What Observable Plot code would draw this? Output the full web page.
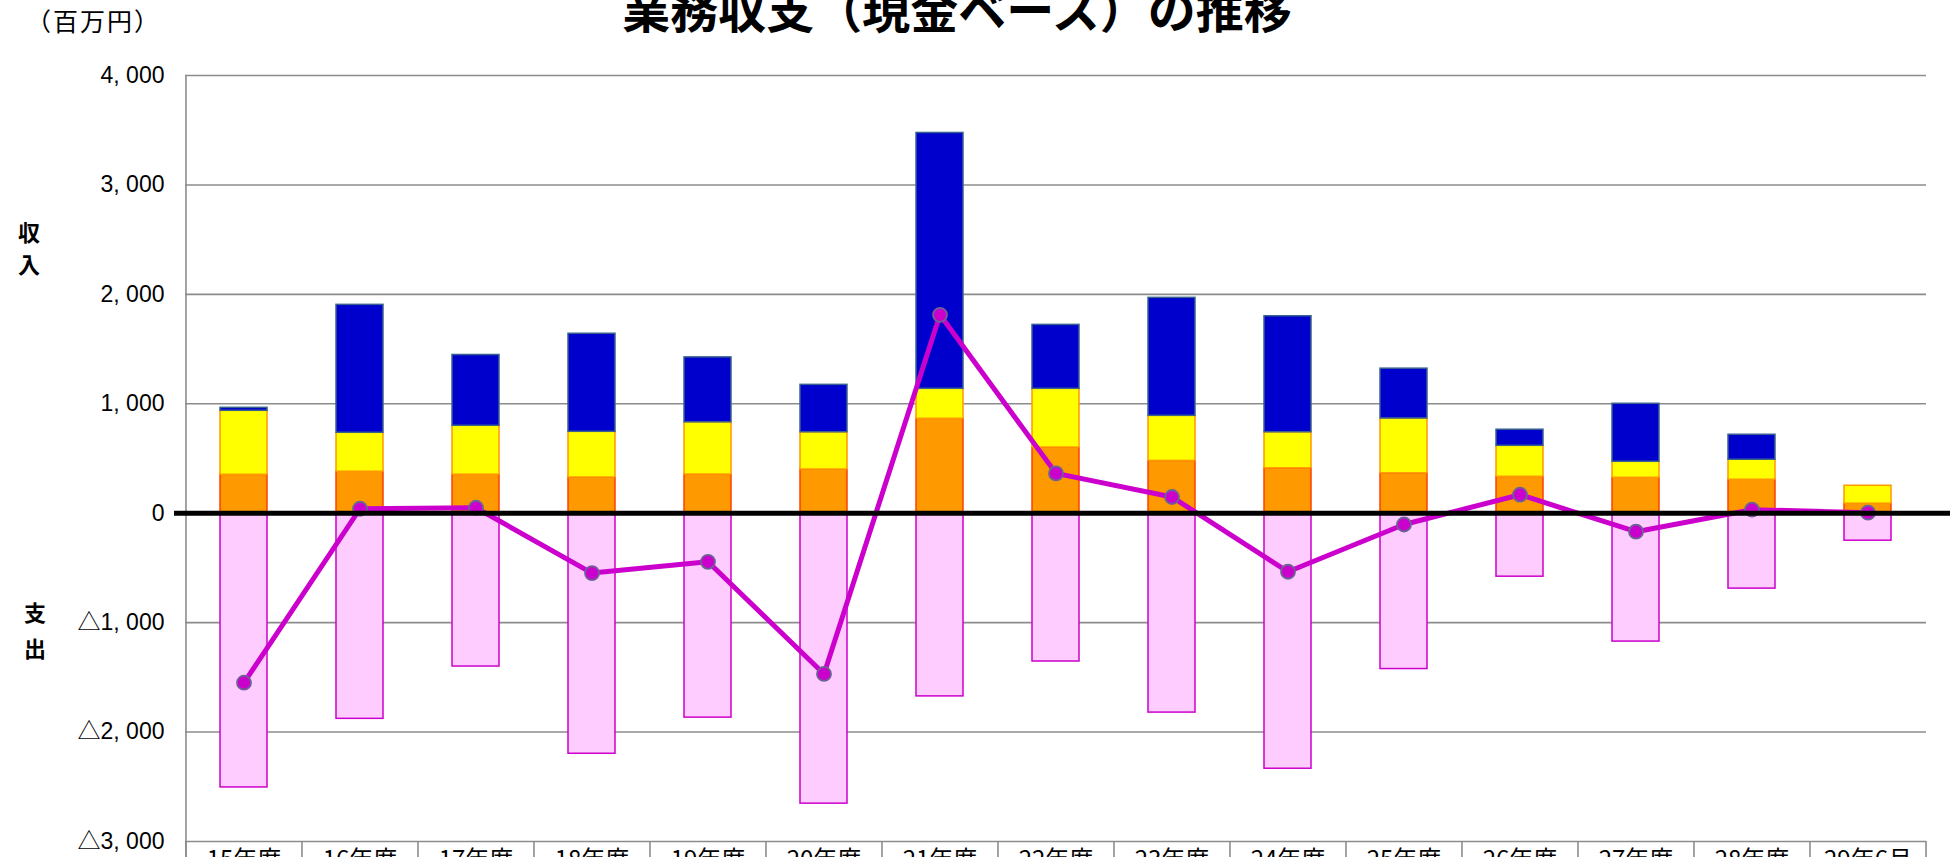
<!DOCTYPE html>
<html><head><meta charset="utf-8">
<script src="https://cdn.jsdelivr.net/npm/d3@7"></script>
<script src="https://cdn.jsdelivr.net/npm/@observablehq/plot@0.6"></script>
<style>
html,body{margin:0;padding:0;overflow:hidden;background:#fff}
#wrap{position:relative;width:1951px;height:857px;overflow:hidden}
#chart,#over{position:absolute;left:0;top:0}
</style></head><body>
<div id="wrap"><div id="chart"></div><svg id="over" width="1951" height="857"></svg></div>
<script>
// ---- data (百万円) ----
const categories = ["15年度","16年度","17年度","18年度","19年度","20年度","21年度","22年度","23年度","24年度","25年度","26年度","27年度","28年度","29年6月"];
const income1 = [351,379,352,326,353,399,863,600,478,410,364,333,324,306,87];      // orange (bottom)
const income2 = [585,356,447,418,478,341,274,537,412,330,502,283,146,183,164];     // yellow
const income3 = [27,1169,647,896,593,433,2338,584,1078,1060,455,147,530,228,0];    // blue (top)
const expense = [-2506,-1879,-1401,-2198,-1868,-2654,-1674,-1355,-1822,-2335,-1424,-580,-1173,-689,-251];
const balance = [-1549,41,50,-547,-444,-1469,1813,364,148,-535,-103,169,-169,32,5];
const yTicks = [4000,3000,2000,1000,0,-1000,-2000,-3000];
const yTickLabels = ["4, 000","3, 000","2, 000","1, 000","0","△1, 000","△2, 000","△3, 000"];
const title = "業務収支（現金ベース）の推移";
const unitLabel = "（百万円）";
const incomeLabel = ["収","入"];
const expenseLabel = ["支","出"];

// ---- layout ----
const W = 1951, H = 900, ML = 185, MR = 25, MT = 75, MB = 59;
const step = (W - ML - MR) / categories.length;

const rows = categories.map((c, i) => ({
  cat: c,
  o1: 0, o2: income1[i],
  y1: income1[i], y2: income1[i] + income2[i],
  b1: income1[i] + income2[i], b2: income1[i] + income2[i] + income3[i],
  e1: expense[i], e2: 0,
  net: balance[i]
}));

const grid = "#8c8c8c";
const chart = Plot.plot({
  width: W, height: H,
  marginLeft: ML, marginRight: MR, marginTop: MT, marginBottom: MB,
  style: {fontFamily: "'Liberation Sans','Noto Sans CJK JP',sans-serif", background: "white", color: "black"},
  x: {domain: categories, paddingInner: 0.595, paddingOuter: 0.2975, axis: null},
  y: {domain: [-3000, 4000], axis: null},
  marks: [
    Plot.ruleY(yTicks.filter(d => d !== 0), {stroke: grid, strokeWidth: 1.6}),
    // left axis line and category separators below the plot
    Plot.ruleX([categories[0]], {dx: -step / 2, y1: 4000, y2: -3700, stroke: grid, strokeWidth: 1.6}),
    Plot.ruleX(categories, {dx: -step / 2, y1: -3000, y2: -3700, stroke: grid, strokeWidth: 1.6}),
    Plot.ruleX([categories[categories.length - 1]], {dx: step / 2, y1: -3000, y2: -3700, stroke: grid, strokeWidth: 1.6}),
    Plot.barY(rows, {x: "cat", y1: "e1", y2: "e2", fill: "#FFCCFF", stroke: "#CC00CC", strokeWidth: 1.5}),
    Plot.barY(rows, {x: "cat", y1: "o1", y2: "o2", fill: "#FF9900", stroke: "#FF4000", strokeWidth: 1.5}),
    Plot.barY(rows, {x: "cat", y1: "y1", y2: "y2", fill: "#FFFF00", stroke: "#FF9900", strokeWidth: 1.5}),
    Plot.barY(rows.filter(d => d.b2 > d.b1), {x: "cat", y1: "b1", y2: "b2", fill: "#0000CC", stroke: "#38618F", strokeWidth: 1.5}),
    Plot.line(rows, {x: "cat", y: "net", stroke: "#CC00CC", strokeWidth: 5}),
    Plot.dot(rows, {x: "cat", y: "net", r: 7, fill: "#CC00CC", stroke: "#6B6295", strokeWidth: 1.8}),
    Plot.ruleY([0], {stroke: "black", strokeWidth: 5, insetLeft: -11, insetRight: -24}),
    Plot.axisY({ticks: yTicks, tickFormat: d => yTickLabels[yTicks.indexOf(d)], tickSize: 0, tickPadding: 21, fontSize: 23}),
    Plot.axisX({tickSize: 0, tickPadding: 9, fontSize: 24, fontFamily: "'Noto Sans CJK JP',sans-serif"})
  ]
});
document.getElementById("chart").appendChild(chart);

// ---- titles / annotations ----
const over = d3.select("#over").style("font-family", "'Noto Sans CJK JP',sans-serif");
over.append("text").attr("x", 957).attr("y", 28).attr("text-anchor", "middle")
  .attr("font-size", 48).attr("font-weight", 700).text(title);
over.append("text").attr("x", 26).attr("y", 31).attr("text-anchor", "start")
  .attr("font-size", 25).attr("letter-spacing", 2).text(unitLabel);
incomeLabel.forEach((t, i) => over.append("text").attr("x", 29).attr("y", 241 + i * 32)
  .attr("text-anchor", "middle").attr("font-size", 22).attr("font-weight", 700).text(t));
expenseLabel.forEach((t, i) => over.append("text").attr("x", 35).attr("y", 621 + i * 36)
  .attr("text-anchor", "middle").attr("font-size", 22).attr("font-weight", 700).text(t));
</script>
</body></html>
